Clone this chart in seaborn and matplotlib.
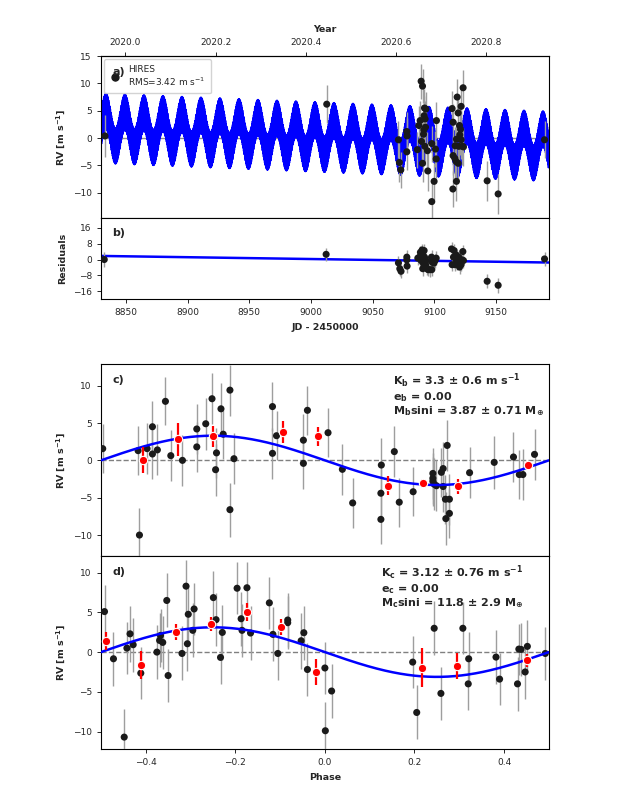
import numpy as np
import pandas as pd
import matplotlib
matplotlib.use('Agg')
import matplotlib.pyplot as plt
import seaborn as sns

# ---- data ----
# panel a: time series (JD - 2450000, RV m/s, err)
rv_t = [8833.0, 9012.7, 9070.8, 9071.6, 9072.7, 9077.6, 9077.8, 9077.6, 9086.2, 9087.3,
        9088.4, 9089.2, 9090.3, 9089.5, 9090.3, 9091.1, 9091.4, 9091.6, 9091.9, 9092.4,
        9092.7, 9093.0, 9092.2, 9094.3, 9094.6, 9097.8, 9097.8, 9099.7, 9100.8, 9101.4,
        9101.6, 9114.3, 9115.1, 9114.9, 9115.1, 9116.5, 9116.8, 9117.6, 9117.8, 9117.8,
        9118.4, 9119.2, 9119.2, 9119.7, 9120.3, 9120.5, 9121.1, 9121.6, 9121.6, 9122.7,
        9123.2, 9123.5, 9142.7, 9151.6, 9189.2]
rv_v = [0.4, 6.2, -0.3, -4.45, -5.8, 1.2, 0.4, -2.5, -2.1, 2.3,
        3.2, 10.4, 9.5, -0.6, -4.6, 0.7, 1.5, 4.1, 5.5, 3.5,
        2.0, 5.3, -1.5, -2.3, -6.0, -1.0, -11.6, -7.9, -2.0, -3.8,
        3.2, 5.4, 2.9, -9.3, -3.2, -3.7, -1.4, -4.3, -7.9, -0.2,
        7.5, -4.6, 4.6, -1.5, 2.3, 0.6, 1.6, -0.3, 5.8, -1.5,
        9.2, -1.6, -7.8, -10.2, -0.3]
rv_e = [3.9, 3.5, 3.4, 3.6, 3.3, 3.5, 3.2, 3.4, 3.3, 3.5,
        3.6, 3.2, 3.1, 3.4, 3.5, 3.3, 3.4, 3.6, 3.5, 3.3,
        3.4, 3.2, 3.5, 3.4, 3.6, 3.3, 3.6, 3.4, 3.3, 3.5,
        3.4, 3.2, 3.4, 3.3, 3.5, 3.6, 3.4, 3.3, 3.5, 3.4,
        3.3, 3.4, 3.2, 3.5, 3.3, 3.6, 3.4, 3.5, 3.3, 3.4,
        3.3, 3.5, 3.6, 3.7, 3.4]

# panel b: residuals
res_t = [8832.4, 9012.2, 9070.8, 9071.9, 9072.9, 9077.6, 9077.6, 9077.8, 9086.5, 9087.8,
         9088.6, 9089.2, 9090.0, 9090.5, 9090.5, 9091.1, 9091.6, 9091.9, 9092.4, 9093.0,
         9093.2, 9094.1, 9094.9, 9096.2, 9097.6, 9097.8, 9098.1, 9099.5, 9100.5, 9101.4,
         9113.8, 9114.3, 9115.4, 9115.9, 9116.5, 9117.6, 9117.8, 9118.6, 9119.2, 9119.7,
         9120.3, 9121.1, 9121.6, 9122.4, 9123.0, 9123.5, 9142.7, 9151.6, 9189.2]
res_v = [0.0, 2.6, -1.7, -4.6, -5.9, 1.2, -0.2, -3.3, 0.7, 1.2,
         3.6, -0.5, 4.8, 2.8, -4.6, -2.1, 4.5, 1.2, -2.1, -3.0,
         -0.5, -4.6, -5.1, -5.1, 1.2, -5.1, -1.3, -1.8, -0.5, 0.7,
         5.3, -2.6, 1.2, 4.5, -2.6, 2.3, -0.5, -2.1, 0.0, 1.2,
         -3.8, -0.8, -2.5, -0.2, 4.0, -0.5, -10.9, -12.9, 0.3]
res_e = [3.6, 3.4, 3.3, 3.5, 3.3, 3.4, 3.2, 3.4, 3.3, 3.5,
         3.4, 3.3, 3.2, 3.4, 3.5, 3.3, 3.4, 3.3, 3.4, 3.5,
         3.3, 3.4, 3.3, 3.5, 3.4, 3.3, 3.4, 3.3, 3.5, 3.4,
         3.3, 3.4, 3.5, 3.3, 3.4, 3.5, 3.3, 3.4, 3.2, 3.4,
         3.3, 3.4, 3.5, 3.3, 3.4, 3.5, 3.6, 3.7, 3.5]

# panel c: phase folded on planet b
ph_b = [-0.496, -0.417, -0.414, -0.397, -0.385, -0.385, -0.374, -0.356, -0.344, -0.318,
        -0.286, -0.286, -0.266, -0.252, -0.242, -0.244, -0.232, -0.227, -0.212, -0.212,
        -0.203, -0.117, -0.117, -0.108, -0.048, -0.048, -0.039, 0.007, 0.039, 0.062,
        0.126, 0.125, 0.125, 0.155, 0.166, 0.197, 0.241, 0.241, 0.241, 0.244,
        0.249, 0.260, 0.264, 0.264, 0.269, 0.270, 0.273, 0.278, 0.278, 0.323,
        0.378, 0.421, 0.434, 0.442, 0.468]
rv_b = [1.57, 1.3, -10.0, 1.57, 4.5, 0.85, 1.4, 7.9, 0.63, 0.0,
        4.2, 1.8, 4.9, 8.25, 1.0, -1.25, 6.9, 3.5, 9.4, -6.6,
        0.22, 7.2, 0.94, 3.3, 2.7, -0.4, 6.7, 3.7, -1.2, -5.7,
        -0.63, -4.4, -7.9, 1.17, -5.6, -4.2, -1.75, -2.4, -2.8, -3.2,
        -3.4, -1.6, -1.1, -3.5, -5.2, -7.8, 2.0, -7.1, -5.2, -1.65,
        -0.27, 0.45, -1.9, -1.9, 0.8]
err_b = [3.3, 3.3, 3.6, 3.4, 3.5, 3.3, 3.4, 3.2, 3.4, 3.4,
         3.4, 3.3, 3.5, 3.4, 3.3, 3.5, 3.4, 3.3, 3.4, 3.6,
         3.4, 3.3, 3.4, 3.3, 3.5, 3.4, 3.3, 3.3, 3.4, 3.3,
         3.6, 3.3, 3.3, 3.4, 3.3, 3.3, 3.4, 3.4, 3.3, 3.5,
         3.4, 3.3, 3.5, 3.4, 3.3, 3.5, 3.4, 3.3, 3.4, 3.4,
         3.5, 3.4, 3.3, 3.4, 3.4]
bin_ph_b = [-0.405, -0.327, -0.249, -0.093, -0.016, 0.141, 0.219, 0.297, 0.453]
bin_rv_b = [0.0, 2.83, 3.23, 3.8, 3.2, -3.4, -3.0, -3.45, -0.63]
bin_err_b = [1.75, 2.2, 1.4, 1.5, 1.3, 1.3, 0.5, 1.0, 0.5]

# panel d: phase folded on planet c
ph_c = [-0.492, -0.472, -0.448, -0.442, -0.435, -0.428, -0.411, -0.375, -0.367, -0.369,
        -0.362, -0.353, -0.350, -0.319, -0.310, -0.307, -0.305, -0.295, -0.292, -0.249,
        -0.243, -0.233, -0.229, -0.196, -0.187, -0.185, -0.174, -0.166, -0.124, -0.116,
        -0.105, -0.083, -0.083, -0.053, -0.047, -0.039, 0.0, 0.001, 0.015, 0.196,
        0.205, 0.244, 0.259, 0.308, 0.321, 0.320, 0.382, 0.390, 0.430, 0.433,
        0.438, 0.447, 0.452, 0.492]
rv_c = [5.1, -0.84, -10.7, 0.5, 2.3, 0.93, -2.65, 0.0, 2.1, 1.47,
        1.22, 6.5, -2.95, -0.17, 8.3, 1.05, 4.76, 2.74, 5.43, 6.86,
        4.08, -0.67, 2.48, 8.04, 4.2, 2.74, 8.1, 2.4, 6.2, 2.23,
        -0.17, 4.04, 3.7, 1.43, 2.44, -2.19, -2.0, -9.9, -4.9, -1.26,
        -7.6, 3.0, -5.2, 3.0, -0.84, -4.0, -0.63, -3.4, -4.0, 0.38,
        0.34, -2.5, 0.72, -0.17]
err_c = [3.3, 3.4, 3.6, 3.3, 3.5, 3.4, 3.3, 3.4, 3.3, 3.4,
         3.3, 3.4, 3.3, 3.4, 3.3, 3.4, 3.5, 3.4, 3.3, 3.4,
         3.3, 3.4, 3.5, 3.3, 3.4, 3.3, 3.3, 3.4, 3.3, 3.4,
         3.4, 3.4, 3.3, 3.5, 3.4, 3.3, 3.3, 3.6, 3.4, 3.3,
         3.4, 3.4, 3.3, 3.3, 3.4, 3.3, 3.4, 3.3, 3.4, 3.2,
         3.3, 3.4, 3.3, 3.3]
bin_ph_c = [-0.488, -0.411, -0.333, -0.254, -0.175, -0.097, -0.019, 0.216, 0.294, 0.451]
bin_rv_c = [1.39, -1.6, 2.48, 3.58, 5.05, 3.16, -2.53, -1.98, -1.77, -1.05]
bin_err_c = [1.1, 1.75, 1.0, 0.9, 1.1, 0.95, 1.67, 2.45, 1.6, 0.8]

# ---- orbit fit values shown in the chart ----
K_b, P_b = 3.3, 0.46
K_c, P_c, tc_c = 3.12, 15.4, 8837.6
gamma, dvdt, t_ref = 0.15, -0.0091, 9011.0
t_min, t_max = 8829.7, 9192.7

labels_b = [r'$\mathbf{K_b}$ = 3.3 $\mathbf{\pm}$ 0.6 m s$^{\mathbf{-1}}$',
            r'$\mathbf{e_b}$ = 0.00',
            r'$\mathbf{M_b}$sini = 3.87 $\mathbf{\pm}$ 0.71 M$_{\mathbf{\oplus}}$']
labels_c = [r'$\mathbf{K_c}$ = 3.12 $\mathbf{\pm}$ 0.76 m s$^{\mathbf{-1}}$',
            r'$\mathbf{e_c}$ = 0.00',
            r'$\mathbf{M_c}$sini = 11.8 $\mathbf{\pm}$ 2.9 M$_{\mathbf{\oplus}}$']
year_ticks = [2020.0, 2020.2, 2020.4, 2020.6, 2020.8]

sns.set_theme(style='ticks', rc={
    'axes.edgecolor': 'black', 'axes.linewidth': 0.8,
    'xtick.labelsize': 6.5, 'ytick.labelsize': 6.5,
    'xtick.major.size': 3, 'ytick.major.size': 3,
    'xtick.major.width': 0.7, 'ytick.major.width': 0.7,
    'axes.labelsize': 6.8, 'axes.labelweight': 'bold',
})
plt.rcParams['font.family'] = ['DejaVu Sans']
plt.rcParams['mathtext.default'] = 'regular'


def draw_points(ax, x, y, e):
    ax.errorbar(x, y, yerr=e, fmt='none', ecolor='0.62', elinewidth=1.0, capsize=0, zorder=3)
    sns.scatterplot(x=x, y=y, ax=ax, color='k', s=26, edgecolor='none', zorder=4)


def draw_binned(ax, x, y, e):
    ax.errorbar(x, y, yerr=e, fmt='none', ecolor='red', elinewidth=1.6, capsize=0, zorder=5)
    sns.scatterplot(x=x, y=y, ax=ax, color='red', s=36, edgecolor='white', linewidth=0.8, zorder=6)


fig = plt.figure(figsize=(6.23, 8.06), dpi=100)
L, W = 0.162, 0.719
ax_a = fig.add_axes([L, 0.7295, W, 0.2010])
ax_b = fig.add_axes([L, 0.6290, W, 0.1005])
ax_c = fig.add_axes([L, 0.3102, W, 0.2382])
ax_d = fig.add_axes([L, 0.0707, W, 0.2395])

# panel a: full model
t_mod = np.linspace(t_min, t_max, 40000)
trend = gamma + dvdt * (t_mod - t_ref)
rv_mod = trend - K_b * np.sin(2 * np.pi * t_mod / P_b) - K_c * np.sin(2 * np.pi * (t_mod - tc_c) / P_c)
ax_a.axhline(0, color='0.55', lw=1, zorder=1)
sns.lineplot(x=t_mod, y=rv_mod, ax=ax_a, color='blue', lw=1.0, estimator=None, sort=False, zorder=2)
draw_points(ax_a, rv_t, rv_v, rv_e)
# legend entry: point with error bar
ax_a.errorbar([np.nan], [np.nan], yerr=[1.0], fmt='o', color='k', ecolor='0.62', ms=5,
              elinewidth=1.0, capsize=0, label='HIRES\nRMS=3.42 m s$^{-1}$')
ax_a.set_xlim(t_min, t_max)
ax_a.set_ylim(-14.6, 15)
ax_a.set_yticks([-10, -5, 0, 5, 10, 15])
ax_a.set_ylabel(r'RV [m s$^{\mathbf{-1}}$]')
ax_a.tick_params(labelbottom=False)
leg = ax_a.legend(loc='upper left', fontsize=6.5, handletextpad=0.9, borderaxespad=0.35,
                  borderpad=0.6, handlelength=1.2, frameon=True, framealpha=0.85)
leg.set_zorder(10)
ax_a.text(0.025, 0.88, 'a)', transform=ax_a.transAxes, fontsize=8, fontweight='bold', zorder=11)

secax = ax_a.secondary_xaxis('top', functions=(lambda jd: 2020.0 + (jd - 8849.5) / 365.25,
                                                lambda yr: 8849.5 + (yr - 2020.0) * 365.25))
secax.set_xticks(year_ticks)
secax.set_xticklabels(['%.1f' % y for y in year_ticks])
secax.set_xlabel('Year', fontweight='bold', fontsize=6.8)

# panel b: residuals with trend
t_tr = np.array([t_min, t_max])
sns.lineplot(x=t_tr, y=gamma + dvdt * (t_tr - t_ref), ax=ax_b, color='blue', lw=1.8, zorder=2)
draw_points(ax_b, res_t, res_v, res_e)
ax_b.set_xlim(t_min, t_max)
ax_b.set_ylim(-19.8, 20.8)
ax_b.set_yticks([-16, -8, 0, 8, 16])
ax_b.set_xticks([8850, 8900, 8950, 9000, 9050, 9100, 9150])
ax_b.set_ylabel('Residuals')
ax_b.set_xlabel('JD - 2450000')
ax_b.text(0.025, 0.78, 'b)', transform=ax_b.transAxes, fontsize=8, fontweight='bold')

# panels c, d: phase folded
ph_mod = np.linspace(-0.5, 0.5, 600)
for ax, K, ph, rv, er, bph, brv, ber, lab, tag, tx in [
        (ax_c, K_b, ph_b, rv_b, err_b, bin_ph_b, bin_rv_b, bin_err_b, labels_b, 'c)', 0.652),
        (ax_d, K_c, ph_c, rv_c, err_c, bin_ph_c, bin_rv_c, bin_err_c, labels_c, 'd)', 0.626)]:
    ax.axhline(0, color='0.5', lw=1, ls='--', zorder=1)
    draw_points(ax, ph, rv, er)
    sns.lineplot(x=ph_mod, y=-K * np.sin(2 * np.pi * ph_mod), ax=ax, color='blue', lw=1.8, zorder=4.5)
    draw_binned(ax, bph, brv, ber)
    ax.set_xlim(-0.5, 0.5)
    ax.set_xticks([-0.4, -0.2, 0.0, 0.2, 0.4])
    ax.set_yticks([-10, -5, 0, 5, 10])
    ax.set_ylabel(r'RV [m s$^{\mathbf{-1}}$]')
    ax.text(0.025, 0.9, tag, transform=ax.transAxes, fontsize=8, fontweight='bold')
    ax.text(tx, 0.84, '\n'.join(lab), transform=ax.transAxes, fontsize=8, fontweight='bold',
            va='center', ha='left', linespacing=1.05, zorder=7)

ax_c.set_ylim(-12.8, 12.9)
ax_c.tick_params(labelbottom=False)
ax_c.set_xlabel('')
ax_d.set_ylim(-12.2, 12.1)
ax_d.set_xlabel('Phase')

fig.savefig('out.png', dpi=100)
